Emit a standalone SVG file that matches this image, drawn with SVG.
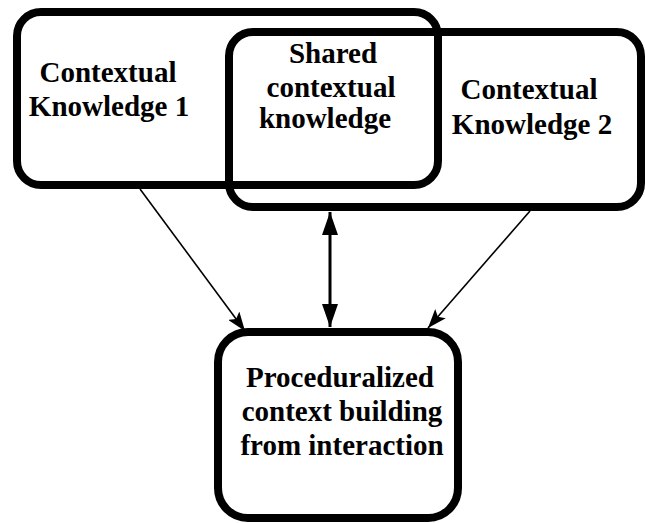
<svg xmlns="http://www.w3.org/2000/svg" width="645" height="523" viewBox="0 0 645 523">
  <style>
    .box { fill: none; stroke: #000; stroke-width: 8; }
    .lbl { font-family: "Liberation Serif", "Times New Roman", serif; font-weight: bold; font-size: 29px; fill: #000; text-anchor: middle; }
    .thin { stroke: #000; stroke-width: 1.6; fill: none; }
    .thick { stroke: #000; stroke-width: 3; fill: none; }
  </style>
  <defs>
    <marker id="headThin" markerUnits="userSpaceOnUse" markerWidth="20" markerHeight="14" refX="19" refY="7" orient="auto">
      <path d="M0,0 L19,7 L0,14 L4,7 Z" fill="#000"/>
    </marker>
    <marker id="headThick" markerUnits="userSpaceOnUse" markerWidth="24" markerHeight="16" refX="23" refY="8" orient="auto-start-reverse">
      <path d="M0,0 L23,8 L0,16 Z" fill="#000"/>
    </marker>
  </defs>
  <g id="connectors">
    <line class="thin" x1="140" y1="189" x2="245" y2="331" marker-end="url(#headThin)"/>
    <line class="thin" x1="530" y1="211" x2="428" y2="328" marker-end="url(#headThin)"/>
    <line class="thick" x1="330" y1="212" x2="330" y2="327" marker-start="url(#headThick)" marker-end="url(#headThick)"/>
  </g>
  <g id="ck1">
    <rect class="box" x="17" y="12" width="421" height="173" rx="24" ry="24"/>
    <text class="lbl" x="108" y="82">Contextual</text>
    <text class="lbl" x="109" y="116">Knowledge 1</text>
  </g>
  <g id="ck2">
    <rect class="box" x="229" y="32" width="412" height="175" rx="24" ry="24"/>
    <text class="lbl" x="529" y="99">Contextual</text>
    <text class="lbl" x="532" y="134">Knowledge 2</text>
  </g>
  <g id="shared">
    <text class="lbl" x="333" y="63">Shared</text>
    <text class="lbl" x="331" y="97">contextual</text>
    <text class="lbl" x="325" y="128">knowledge</text>
  </g>
  <g id="proc">
    <rect class="box" x="218" y="332" width="240" height="186" rx="30" ry="30"/>
    <text class="lbl" x="340" y="387">Proceduralized</text>
    <text class="lbl" x="342" y="421">context building</text>
    <text class="lbl" x="342" y="455">from interaction</text>
  </g>
</svg>
